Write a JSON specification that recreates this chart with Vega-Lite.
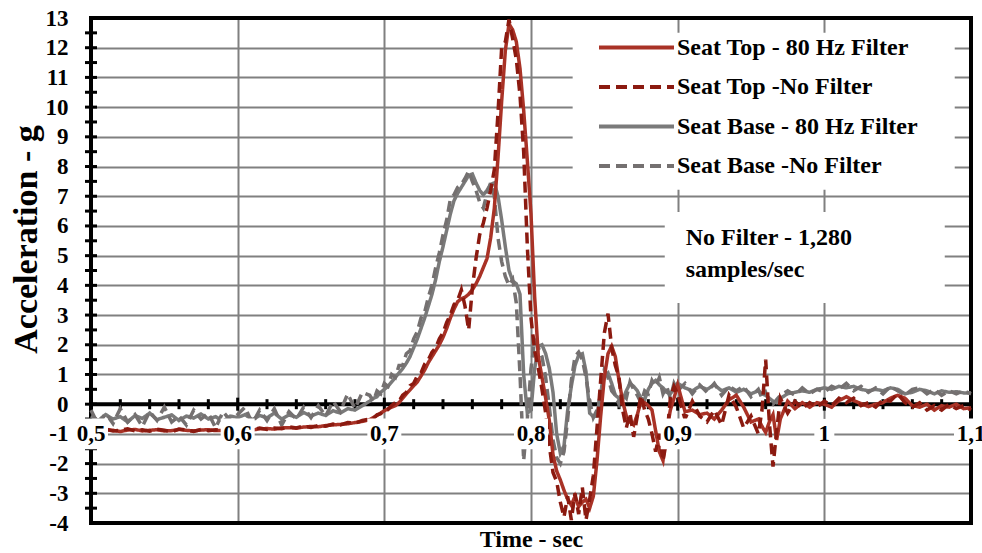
{
  "$schema": "https://vega.github.io/schema/vega-lite/v6.json",
  "width": 880,
  "height": 505,
  "autosize": {"type": "none"},
  "padding": {"left": 91, "top": 18, "right": 11, "bottom": 30},
  "background": "white",
  "config": {
    "font": "Liberation Serif",
    "view": {"stroke": null},
    "axis": {
      "gridColor": "#808080",
      "gridWidth": 2,
      "domain": false,
      "ticks": false,
      "labelFont": "Liberation Serif",
      "labelFontWeight": "bold",
      "labelFontSize": 23,
      "labelColor": "black",
      "labelFlush": false,
      "labelBound": false,
      "labelOverlap": false,
      "titleFont": "Liberation Serif",
      "titleFontWeight": "bold",
      "titleColor": "black"
    },
    "axisX": {"tickCount": 6, "labels": false, "grid": true},
    "axisY": {"tickCount": 17, "grid": true, "labelPadding": 23, "labelExpr": "'' + datum.value"}
  },
  "datasets": {
    "xlab": [
      {"t": 0.5, "lab": "0,5"}, {"t": 0.6, "lab": "0,6"}, {"t": 0.7, "lab": "0,7"},
      {"t": 0.8, "lab": "0,8"}, {"t": 0.9, "lab": "0,9"}, {"t": 1.0, "lab": "1"}, {"t": 1.1, "lab": "1,1"}
    ],
    "xminor": [
      {"t": 0.52}, {"t": 0.54}, {"t": 0.56}, {"t": 0.58},
      {"t": 0.62}, {"t": 0.64}, {"t": 0.66}, {"t": 0.68},
      {"t": 0.72}, {"t": 0.74}, {"t": 0.76}, {"t": 0.78},
      {"t": 0.82}, {"t": 0.84}, {"t": 0.86}, {"t": 0.88},
      {"t": 0.92}, {"t": 0.94}, {"t": 0.96}, {"t": 0.98},
      {"t": 1.02}, {"t": 1.04}, {"t": 1.06}, {"t": 1.08}
    ],
    "yticks": [
      {"v": -3.5}, {"v": -3}, {"v": -2.5}, {"v": -2}, {"v": -1.5}, {"v": -1}, {"v": -0.5}, {"v": 0},
      {"v": 0.5}, {"v": 1}, {"v": 1.5}, {"v": 2}, {"v": 2.5}, {"v": 3}, {"v": 3.5}, {"v": 4},
      {"v": 4.5}, {"v": 5}, {"v": 5.5}, {"v": 6}, {"v": 6.5}, {"v": 7}, {"v": 7.5}, {"v": 8},
      {"v": 8.5}, {"v": 9}, {"v": 9.5}, {"v": 10}, {"v": 10.5}, {"v": 11}, {"v": 11.5}, {"v": 12}, {"v": 12.5}
    ],
    "acc": [
      {"t": 0.5, "a": -0.88, "b": -0.85, "c": -0.4, "d": -0.2},
      {"t": 0.505, "a": -0.9, "b": -0.92, "c": -0.55, "d": -0.7},
      {"t": 0.51, "a": -0.86, "b": -0.84, "c": -0.35, "d": -0.3},
      {"t": 0.515, "a": -0.88, "b": -0.9, "c": -0.5, "d": -0.65},
      {"t": 0.52, "a": -0.92, "b": -0.88, "c": -0.42, "d": -0.15},
      {"t": 0.525, "a": -0.87, "b": -0.83, "c": -0.6, "d": -0.6},
      {"t": 0.53, "a": -0.85, "b": -0.9, "c": -0.38, "d": -0.35},
      {"t": 0.535, "a": -0.9, "b": -0.86, "c": -0.48, "d": -0.75},
      {"t": 0.54, "a": -0.88, "b": -0.91, "c": -0.3, "d": -0.25},
      {"t": 0.545, "a": -0.86, "b": -0.84, "c": -0.52, "d": -0.55},
      {"t": 0.55, "a": -0.9, "b": -0.88, "c": -0.44, "d": -0.1},
      {"t": 0.555, "a": -0.89, "b": -0.93, "c": -0.36, "d": -0.6},
      {"t": 0.56, "a": -0.85, "b": -0.84, "c": -0.55, "d": -0.4},
      {"t": 0.565, "a": -0.88, "b": -0.87, "c": -0.4, "d": -0.7},
      {"t": 0.57, "a": -0.9, "b": -0.92, "c": -0.47, "d": -0.2},
      {"t": 0.575, "a": -0.87, "b": -0.85, "c": -0.33, "d": -0.5},
      {"t": 0.58, "a": -0.86, "b": -0.89, "c": -0.5, "d": -0.3},
      {"t": 0.585, "a": -0.89, "b": -0.86, "c": -0.42, "d": -0.8},
      {"t": 0.59, "a": -0.88, "b": -0.9, "c": -0.58, "d": -0.25},
      {"t": 0.595, "a": -0.85, "b": -0.84, "c": -0.4, "d": -0.55},
      {"t": 0.6, "a": -0.86, "b": -0.88, "c": -0.45, "d": -0.35},
      {"t": 0.605, "a": -0.84, "b": -0.82, "c": -0.35, "d": -0.1},
      {"t": 0.61, "a": -0.87, "b": -0.86, "c": -0.52, "d": -0.65},
      {"t": 0.615, "a": -0.83, "b": -0.8, "c": -0.38, "d": -0.2},
      {"t": 0.62, "a": -0.82, "b": -0.85, "c": -0.46, "d": -0.55},
      {"t": 0.625, "a": -0.84, "b": -0.8, "c": -0.3, "d": -0.15},
      {"t": 0.63, "a": -0.8, "b": -0.83, "c": -0.5, "d": -0.7},
      {"t": 0.635, "a": -0.79, "b": -0.76, "c": -0.36, "d": -0.25},
      {"t": 0.64, "a": -0.81, "b": -0.8, "c": -0.44, "d": -0.5},
      {"t": 0.645, "a": -0.77, "b": -0.74, "c": -0.28, "d": -0.1},
      {"t": 0.65, "a": -0.75, "b": -0.78, "c": -0.4, "d": -0.45},
      {"t": 0.655, "a": -0.76, "b": -0.72, "c": -0.3, "d": -0.05},
      {"t": 0.66, "a": -0.72, "b": -0.74, "c": -0.38, "d": -0.4},
      {"t": 0.665, "a": -0.7, "b": -0.67, "c": -0.22, "d": 0.1},
      {"t": 0.67, "a": -0.68, "b": -0.7, "c": -0.3, "d": -0.25},
      {"t": 0.675, "a": -0.66, "b": -0.62, "c": -0.15, "d": 0.35},
      {"t": 0.68, "a": -0.62, "b": -0.64, "c": -0.2, "d": -0.15},
      {"t": 0.685, "a": -0.58, "b": -0.55, "c": -0.05, "d": 0.4},
      {"t": 0.69, "a": -0.52, "b": -0.5, "c": 0.1, "d": 0.3},
      {"t": 0.6925, "a": -0.45, "b": -0.48, "c": 0.2, "d": 0.1},
      {"t": 0.695, "a": -0.38, "b": -0.36, "c": 0.25, "d": 0.45},
      {"t": 0.6975, "a": -0.3, "b": -0.32, "c": 0.4, "d": 0.35},
      {"t": 0.7, "a": -0.22, "b": -0.2, "c": 0.5, "d": 0.7},
      {"t": 0.7025, "a": -0.15, "b": -0.18, "c": 0.6, "d": 0.6},
      {"t": 0.705, "a": -0.1, "b": -0.05, "c": 0.75, "d": 1.0},
      {"t": 0.7075, "a": -0.05, "b": 0.05, "c": 0.9, "d": 0.9},
      {"t": 0.71, "a": 0.05, "b": 0.1, "c": 1.05, "d": 1.3},
      {"t": 0.7125, "a": 0.2, "b": 0.3, "c": 1.2, "d": 1.3},
      {"t": 0.715, "a": 0.35, "b": 0.4, "c": 1.38, "d": 1.7},
      {"t": 0.7175, "a": 0.48, "b": 0.62, "c": 1.6, "d": 1.8},
      {"t": 0.72, "a": 0.62, "b": 0.7, "c": 1.9, "d": 2.2},
      {"t": 0.7225, "a": 0.75, "b": 0.95, "c": 2.2, "d": 2.45},
      {"t": 0.725, "a": 0.95, "b": 1.05, "c": 2.55, "d": 2.9},
      {"t": 0.7275, "a": 1.15, "b": 1.35, "c": 2.9, "d": 3.1},
      {"t": 0.73, "a": 1.4, "b": 1.5, "c": 3.3, "d": 3.6},
      {"t": 0.7325, "a": 1.6, "b": 1.75, "c": 3.7, "d": 4.0},
      {"t": 0.735, "a": 1.8, "b": 1.9, "c": 4.2, "d": 4.6},
      {"t": 0.7375, "a": 2.0, "b": 2.2, "c": 4.8, "d": 5.1},
      {"t": 0.74, "a": 2.25, "b": 2.4, "c": 5.3, "d": 5.7},
      {"t": 0.7425, "a": 2.55, "b": 2.75, "c": 5.85, "d": 6.2},
      {"t": 0.745, "a": 2.9, "b": 3.0, "c": 6.4, "d": 6.9},
      {"t": 0.7475, "a": 3.2, "b": 3.35, "c": 6.85, "d": 7.05},
      {"t": 0.75, "a": 3.45, "b": 3.5, "c": 7.1, "d": 7.3},
      {"t": 0.7525, "a": 3.55, "b": 3.85, "c": 7.3, "d": 7.4},
      {"t": 0.755, "a": 3.6, "b": 3.3, "c": 7.5, "d": 7.6},
      {"t": 0.7575, "a": 3.7, "b": 2.5, "c": 7.7, "d": 7.85},
      {"t": 0.76, "a": 3.85, "b": 3.9, "c": 7.75, "d": 7.5},
      {"t": 0.7625, "a": 4.05, "b": 4.9, "c": 7.45, "d": 7.2},
      {"t": 0.765, "a": 4.3, "b": 5.7, "c": 7.2, "d": 6.8},
      {"t": 0.7675, "a": 4.6, "b": 6.1, "c": 7.05, "d": 6.6},
      {"t": 0.77, "a": 4.9, "b": 6.6, "c": 7.2, "d": 7.1},
      {"t": 0.7725, "a": 5.6, "b": 7.2, "c": 7.4, "d": 7.45},
      {"t": 0.775, "a": 6.6, "b": 7.9, "c": 7.45, "d": 7.0},
      {"t": 0.7775, "a": 8.3, "b": 9.8, "c": 7.0, "d": 5.6},
      {"t": 0.78, "a": 10.2, "b": 12.0, "c": 6.2, "d": 4.8},
      {"t": 0.7825, "a": 11.9, "b": 12.2, "c": 5.3, "d": 4.3},
      {"t": 0.785, "a": 12.8, "b": 12.95, "c": 4.5, "d": 4.0},
      {"t": 0.7875, "a": 12.6, "b": 12.3, "c": 4.15, "d": 4.2},
      {"t": 0.79, "a": 12.2, "b": 11.6, "c": 4.05, "d": 3.4},
      {"t": 0.7925, "a": 11.3, "b": 10.4, "c": 3.7, "d": 1.0},
      {"t": 0.795, "a": 9.9, "b": 8.5, "c": 1.0, "d": -1.9},
      {"t": 0.7975, "a": 8.2, "b": 5.3, "c": -0.3, "d": -0.5},
      {"t": 0.8, "a": 6.4, "b": 2.9, "c": -0.2, "d": 1.2},
      {"t": 0.8025, "a": 3.6, "b": 1.8, "c": 1.2, "d": 2.15},
      {"t": 0.805, "a": 1.6, "b": 1.2, "c": 1.95, "d": 1.9},
      {"t": 0.8075, "a": 0.9, "b": 0.5, "c": 2.0, "d": 1.6},
      {"t": 0.81, "a": 0.2, "b": -0.3, "c": 1.7, "d": 0.9},
      {"t": 0.8125, "a": -0.55, "b": -1.4, "c": 1.2, "d": -0.1},
      {"t": 0.815, "a": -1.7, "b": -2.3, "c": 0.4, "d": -1.2},
      {"t": 0.8175, "a": -2.25, "b": -2.6, "c": -1.0, "d": -1.8},
      {"t": 0.82, "a": -2.55, "b": -3.3, "c": -1.65, "d": -2.0},
      {"t": 0.8225, "a": -2.9, "b": -3.8, "c": -1.4, "d": -1.6},
      {"t": 0.825, "a": -3.2, "b": -3.1, "c": -0.2, "d": -0.5},
      {"t": 0.8275, "a": -3.4, "b": -3.9, "c": 0.6, "d": 0.8},
      {"t": 0.83, "a": -3.1, "b": -3.0, "c": 1.3, "d": 1.6},
      {"t": 0.8325, "a": -3.45, "b": -3.7, "c": 1.65, "d": 1.75},
      {"t": 0.835, "a": -3.3, "b": -2.8, "c": 1.7, "d": 1.5},
      {"t": 0.8375, "a": -3.2, "b": -3.9, "c": 1.1, "d": 0.9},
      {"t": 0.84, "a": -3.5, "b": -3.2, "c": -0.3, "d": 0.1},
      {"t": 0.8425, "a": -3.1, "b": -2.4, "c": -0.42, "d": -0.45},
      {"t": 0.845, "a": -1.9, "b": -0.8, "c": -0.4, "d": -0.2},
      {"t": 0.8475, "a": -0.4, "b": 0.8, "c": 0.4, "d": 0.3},
      {"t": 0.85, "a": 0.9, "b": 2.4, "c": 0.95, "d": 1.15},
      {"t": 0.8525, "a": 1.7, "b": 3.05, "c": 1.05, "d": 0.9},
      {"t": 0.855, "a": 1.95, "b": 1.9, "c": 0.7, "d": 0.45},
      {"t": 0.8575, "a": 1.6, "b": 1.3, "c": 0.3, "d": 0.3},
      {"t": 0.86, "a": 0.8, "b": 0.9, "c": 0.2, "d": 0.0},
      {"t": 0.8625, "a": 0.1, "b": -0.2, "c": 0.15, "d": 0.35},
      {"t": 0.865, "a": -0.4, "b": -0.8, "c": 0.45, "d": 0.2},
      {"t": 0.8675, "a": -0.6, "b": -0.3, "c": 0.7, "d": 0.75},
      {"t": 0.87, "a": -0.7, "b": -1.1, "c": 0.6, "d": 0.5},
      {"t": 0.8725, "a": -0.35, "b": -0.4, "c": 0.45, "d": 0.3},
      {"t": 0.875, "a": 0.1, "b": 0.3, "c": 0.2, "d": 0.05},
      {"t": 0.8775, "a": 0.05, "b": -0.2, "c": 0.15, "d": 0.45},
      {"t": 0.88, "a": -0.05, "b": -0.5, "c": 0.5, "d": 0.35},
      {"t": 0.8825, "a": -0.2, "b": -1.0, "c": 0.7, "d": 0.8},
      {"t": 0.885, "a": -0.9, "b": -1.6, "c": 0.8, "d": 0.6},
      {"t": 0.8875, "a": -1.6, "b": -1.0, "c": 0.65, "d": 0.9},
      {"t": 0.89, "a": -1.9, "b": -1.9, "c": 0.55, "d": 0.35},
      {"t": 0.8925, "a": -0.9, "b": -1.2, "c": 0.4, "d": 0.6},
      {"t": 0.895, "a": -0.2, "b": 0.2, "c": 0.35, "d": 0.2},
      {"t": 0.8975, "a": 0.2, "b": 0.6, "c": 0.5, "d": 0.7},
      {"t": 0.9, "a": 0.65, "b": 0.35, "c": 0.7, "d": 0.45},
      {"t": 0.905, "a": -0.25, "b": -0.5, "c": 0.55, "d": 0.7},
      {"t": 0.91, "a": -0.2, "b": 0.1, "c": 0.45, "d": 0.35},
      {"t": 0.915, "a": -0.35, "b": -0.4, "c": 0.6, "d": 0.65},
      {"t": 0.92, "a": -0.3, "b": -0.6, "c": 0.5, "d": 0.4},
      {"t": 0.925, "a": -0.5, "b": -0.2, "c": 0.65, "d": 0.7},
      {"t": 0.93, "a": -0.2, "b": -0.7, "c": 0.45, "d": 0.3},
      {"t": 0.935, "a": 0.15, "b": 0.3, "c": 0.55, "d": 0.6},
      {"t": 0.94, "a": 0.3, "b": -0.1, "c": 0.4, "d": 0.45},
      {"t": 0.945, "a": -0.1, "b": -0.8, "c": 0.5, "d": 0.6},
      {"t": 0.95, "a": -0.6, "b": -0.4, "c": 0.35, "d": 0.25},
      {"t": 0.955, "a": -0.5, "b": -1.0, "c": 0.45, "d": 0.5},
      {"t": 0.9575, "a": -0.75, "b": -0.2, "c": 0.35, "d": 0.2},
      {"t": 0.96, "a": -0.95, "b": 1.5, "c": 0.3, "d": 0.4},
      {"t": 0.9625, "a": -0.6, "b": -0.6, "c": 0.2, "d": 0.1},
      {"t": 0.965, "a": -0.35, "b": -2.1, "c": 0.1, "d": 0.0},
      {"t": 0.9675, "a": -1.2, "b": -0.9, "c": 0.05, "d": 0.15},
      {"t": 0.97, "a": -0.5, "b": 0.2, "c": 0.2, "d": 0.3},
      {"t": 0.975, "a": 0.1, "b": -0.3, "c": 0.35, "d": 0.45},
      {"t": 0.98, "a": -0.15, "b": 0.1, "c": 0.4, "d": 0.3},
      {"t": 0.985, "a": 0.05, "b": -0.15, "c": 0.45, "d": 0.55},
      {"t": 0.99, "a": -0.1, "b": 0.05, "c": 0.4, "d": 0.35},
      {"t": 0.995, "a": 0.05, "b": -0.1, "c": 0.5, "d": 0.5},
      {"t": 1.0, "a": 0.0, "b": 0.1, "c": 0.55, "d": 0.4},
      {"t": 1.005, "a": -0.1, "b": -0.05, "c": 0.5, "d": 0.6},
      {"t": 1.01, "a": 0.12, "b": 0.2, "c": 0.6, "d": 0.5},
      {"t": 1.015, "a": 0.25, "b": 0.05, "c": 0.55, "d": 0.7},
      {"t": 1.02, "a": 0.12, "b": 0.2, "c": 0.6, "d": 0.45},
      {"t": 1.025, "a": 0.02, "b": -0.05, "c": 0.5, "d": 0.6},
      {"t": 1.03, "a": -0.08, "b": 0.05, "c": 0.45, "d": 0.4},
      {"t": 1.035, "a": 0.0, "b": -0.1, "c": 0.5, "d": 0.55},
      {"t": 1.04, "a": 0.05, "b": 0.15, "c": 0.45, "d": 0.35},
      {"t": 1.045, "a": 0.2, "b": 0.1, "c": 0.55, "d": 0.6},
      {"t": 1.05, "a": 0.3, "b": 0.35, "c": 0.5, "d": 0.45},
      {"t": 1.055, "a": 0.2, "b": 0.05, "c": 0.35, "d": 0.3},
      {"t": 1.06, "a": -0.05, "b": -0.1, "c": 0.4, "d": 0.5},
      {"t": 1.065, "a": -0.1, "b": 0.05, "c": 0.5, "d": 0.55},
      {"t": 1.07, "a": 0.0, "b": -0.2, "c": 0.45, "d": 0.35},
      {"t": 1.075, "a": -0.2, "b": -0.05, "c": 0.35, "d": 0.5},
      {"t": 1.08, "a": -0.05, "b": -0.2, "c": 0.45, "d": 0.3},
      {"t": 1.085, "a": -0.1, "b": 0.0, "c": 0.4, "d": 0.45},
      {"t": 1.09, "a": 0.0, "b": -0.15, "c": 0.42, "d": 0.35},
      {"t": 1.095, "a": -0.15, "b": -0.05, "c": 0.38, "d": 0.45},
      {"t": 1.1, "a": -0.12, "b": -0.2, "c": 0.38, "d": 0.35}
    ]
  },
  "layer": [
    {
      "description": "gridlines, axis labels and titles, drawn from the time-series rows",
      "data": {"name": "acc"},
      "mark": {"type": "point", "opacity": 0},
      "encoding": {
        "x": {
          "field": "t", "type": "quantitative",
          "scale": {"domain": [0.5, 1.1], "nice": false, "zero": false},
          "axis": {"title": "Time - sec", "titleFontSize": 24, "titlePadding": 4}
        },
        "y": {
          "field": "a", "type": "quantitative",
          "scale": {"domain": [-4, 13], "nice": false, "zero": false},
          "axis": {
            "title": "Acceleration - g",
            "titleFontSize": 34, "titleAngle": 270, "titleX": -55, "titleY": 221,
            "titleBaseline": "alphabetic", "titleAlign": "center"
          }
        }
      }
    },
    {
      "description": "white panel behind the series key",
      "data": {"values": [{}]},
      "mark": {"type": "rect", "fill": "white"},
      "encoding": {
        "x": {"datum": 0.8284, "type": "quantitative"},
        "x2": {"datum": 1.0889},
        "y": {"datum": 12.5, "type": "quantitative"},
        "y2": {"datum": 7.22}
      }
    },
    {
      "description": "white panel behind the sampling note",
      "data": {"values": [{}]},
      "mark": {"type": "rect", "fill": "white"},
      "encoding": {
        "x": {"datum": 0.8912, "type": "quantitative"},
        "x2": {"datum": 1.0821},
        "y": {"datum": 6.47, "type": "quantitative"},
        "y2": {"datum": 3.41}
      }
    },
    {
      "description": "heavy frame round the plot, over the edge gridlines",
      "data": {"values": [{}]},
      "mark": {"type": "rect", "fill": null, "stroke": "black", "strokeWidth": 4},
      "encoding": {
        "x": {"datum": 0.5, "type": "quantitative"},
        "x2": {"datum": 1.1},
        "y": {"datum": -4, "type": "quantitative"},
        "y2": {"datum": 13}
      }
    },
    {
      "description": "horizontal axis line at zero g",
      "data": {"values": [{}]},
      "mark": {"type": "rule", "color": "black", "strokeWidth": 4},
      "encoding": {
        "y": {"datum": 0, "type": "quantitative"}
      }
    },
    {
      "description": "minor time ticks crossing the zero line",
      "data": {"name": "xminor"},
      "mark": {"type": "tick", "orient": "vertical", "color": "black", "size": 10, "thickness": 3, "opacity": 1},
      "encoding": {
        "x": {"field": "t", "type": "quantitative"},
        "y": {"datum": 0, "type": "quantitative"}
      }
    },
    {
      "description": "major time ticks crossing the zero line",
      "data": {"name": "xlab"},
      "mark": {"type": "tick", "orient": "vertical", "color": "black", "size": 13, "thickness": 3, "opacity": 1},
      "encoding": {
        "x": {"field": "t", "type": "quantitative"},
        "y": {"datum": 0, "type": "quantitative"}
      }
    },
    {
      "description": "acceleration ticks on the left edge",
      "data": {"name": "yticks"},
      "mark": {"type": "tick", "orient": "horizontal", "color": "black", "size": 12, "thickness": 3, "opacity": 1},
      "encoding": {
        "x": {"datum": 0.5, "type": "quantitative"},
        "y": {"field": "v", "type": "quantitative"}
      }
    },
    {
      "description": "seat base traces",
      "data": {"name": "acc"},
      "transform": [
        {"fold": ["a", "b", "c", "d"], "as": ["s", "v"]},
        {"filter": "datum.s == 'c' || datum.s == 'd'"}
      ],
      "mark": {"type": "line", "strokeWidth": 3.5},
      "encoding": {
        "x": {"field": "t", "type": "quantitative"},
        "y": {"field": "v", "type": "quantitative"},
        "color": {
          "field": "s", "type": "nominal",
          "scale": {"domain": ["a", "b", "c", "d"], "range": ["#a93226", "#8b1a10", "#7a7a7a", "#747070"]},
          "legend": {
            "title": null, "orient": "none", "legendX": 531, "legendY": 15, "direction": "vertical", "padding": 0,
            "symbolType": "M-3,0H3", "symbolSize": 625, "symbolStrokeWidth": 4, "symbolFillColor": "transparent",
            "labelOffset": 26, "labelFont": "Liberation Serif", "labelFontWeight": "bold", "labelFontSize": 24,
            "labelColor": "black", "labelLimit": 400, "rowPadding": 12.5,
            "labelExpr": "datum.label == 'a' ? 'Seat Top - 80 Hz Filter' : datum.label == 'b' ? 'Seat Top -No Filter' : datum.label == 'c' ? 'Seat Base - 80 Hz Filter' : 'Seat Base -No Filter'"
          }
        },
        "strokeDash": {
          "field": "s", "type": "nominal",
          "scale": {"domain": ["a", "b", "c", "d"], "range": [[1, 0], [11, 6], [1, 0], [11, 6]]},
          "legend": {
            "title": null, "orient": "none", "legendX": 531, "legendY": 15, "direction": "vertical", "padding": 0,
            "symbolType": "M-3,0H3", "symbolSize": 625, "symbolStrokeWidth": 4, "symbolFillColor": "transparent",
            "labelOffset": 26, "labelFont": "Liberation Serif", "labelFontWeight": "bold", "labelFontSize": 24,
            "labelColor": "black", "labelLimit": 400, "rowPadding": 12.5,
            "labelExpr": "datum.label == 'a' ? 'Seat Top - 80 Hz Filter' : datum.label == 'b' ? 'Seat Top -No Filter' : datum.label == 'c' ? 'Seat Base - 80 Hz Filter' : 'Seat Base -No Filter'"
          }
        }
      }
    },
    {
      "description": "seat top traces, drawn over the base traces",
      "data": {"name": "acc"},
      "transform": [
        {"fold": ["a", "b", "c", "d"], "as": ["s", "v"]},
        {"filter": "datum.s == 'a' || datum.s == 'b'"}
      ],
      "mark": {"type": "line", "strokeWidth": 3.5},
      "encoding": {
        "x": {"field": "t", "type": "quantitative"},
        "y": {"field": "v", "type": "quantitative"},
        "color": {"field": "s", "type": "nominal"},
        "strokeDash": {"field": "s", "type": "nominal"}
      }
    },
    {
      "description": "white plates behind the two-part time labels",
      "data": {"name": "xlab"},
      "transform": [{"filter": "length(datum.lab) > 1"}],
      "mark": {"type": "point", "shape": "M-1,-0.9H1V0.9H-1Z", "size": 1156, "filled": true, "fill": "white", "opacity": 1, "strokeWidth": 0},
      "encoding": {
        "x": {"field": "t", "type": "quantitative"},
        "y": {"datum": -1, "type": "quantitative"}
      }
    },
    {
      "description": "white plate behind the single-digit time label",
      "data": {"name": "xlab"},
      "transform": [{"filter": "length(datum.lab) == 1"}],
      "mark": {"type": "point", "shape": "M-1,-1.5H1V1.5H-1Z", "size": 400, "filled": true, "fill": "white", "opacity": 1, "strokeWidth": 0},
      "encoding": {
        "x": {"field": "t", "type": "quantitative"},
        "y": {"datum": -1, "type": "quantitative"}
      }
    },
    {
      "description": "time labels with decimal commas",
      "data": {"name": "xlab"},
      "mark": {"type": "text", "font": "Liberation Serif", "fontSize": 23, "fontWeight": "bold", "color": "black", "align": "center", "baseline": "middle"},
      "encoding": {
        "x": {"field": "t", "type": "quantitative"},
        "y": {"datum": -1, "type": "quantitative"},
        "text": {"field": "lab", "type": "nominal"}
      }
    },
    {
      "description": "sampling-rate note",
      "data": {"values": [{}]},
      "mark": {
        "type": "text", "text": ["No Filter - 1,280", "samples/sec"], "lineHeight": 32,
        "font": "Liberation Serif", "fontSize": 24, "fontWeight": "bold", "color": "black",
        "align": "left", "baseline": "alphabetic"
      },
      "encoding": {
        "x": {"datum": 0.9055, "type": "quantitative"},
        "y": {"datum": 5.36, "type": "quantitative"}
      }
    }
  ]
}
